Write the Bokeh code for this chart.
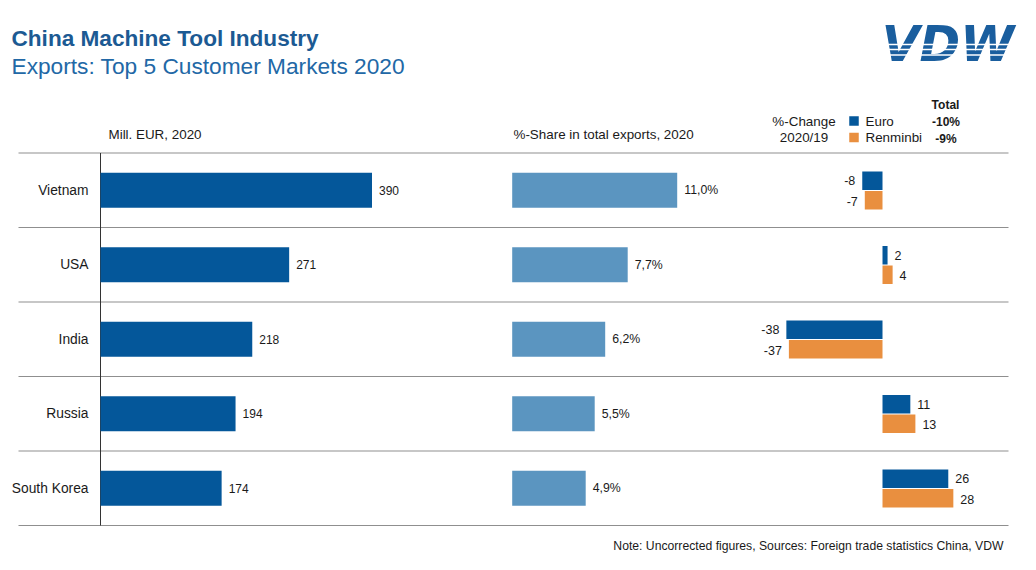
from bokeh.plotting import figure
from bokeh.models import Range1d, ColumnDataSource
from bokeh.transform import dodge
from bokeh.core.properties import value
from bokeh.embed import file_html
from bokeh.resources import INLINE

# ---------------- data ----------------
countries = ["Vietnam", "USA", "India", "Russia", "South Korea"]
exports_eur = [390, 271, 218, 194, 174]
share_pct = [11.0, 7.7, 6.2, 5.5, 4.9]
share_labels = ["11,0%", "7,7%", "6,2%", "5,5%", "4,9%"]
chg_euro = [-8, 2, -38, 11, 26]
chg_rmb = [-7, 4, -37, 13, 28]
total_euro = "-10%"
total_rmb = "-9%"

# ---------------- layout constants ----------------
W, H = 1020, 554
ROW0 = 189.75          # pixel centre of first row
STEP = 74.5            # pixels per row
EUR0, EUR_S = 100, 271.5 / 390
SH0, SH_S = 511.7, 15.0
CH0, CH_S = 882, 2.53

DARK = "#04579a"
LIGHT = "#5b95c0"
ORANGE = "#e98f3f"
GRID = "#8f8f8f"
TXT = "#1a1a1a"
FONT = value("Liberation Sans")

p = figure(width=W, height=H, output_backend="svg", toolbar_location=None,
           x_range=Range1d(0, W), y_range=Range1d(H, 0), min_border=0)
p.axis.visible = False
p.grid.visible = False
p.outline_line_color = None
p.background_fill_color = "white"
p.border_fill_color = "white"

p.extra_y_ranges = {"rows": Range1d(start=(H - ROW0) / STEP, end=-ROW0 / STEP)}
p.extra_x_ranges = {
    "eur": Range1d(start=-EUR0 / EUR_S, end=(W - EUR0) / EUR_S),
    "share": Range1d(start=-SH0 / SH_S, end=(W - SH0) / SH_S),
    "chg": Range1d(start=-CH0 / CH_S, end=(W - CH0) / CH_S),
}

rows = list(range(len(countries)))
src = ColumnDataSource(dict(
    row=rows, country=countries, eur=exports_eur,
    eur_lbl=[str(v) for v in exports_eur],
    share=share_pct, share_lbl=share_labels,
    ce=chg_euro, cr=chg_rmb,
    ce_lbl=[str(v) for v in chg_euro], cr_lbl=[str(v) for v in chg_rmb],
    ce_align=["right" if v < 0 else "left" for v in chg_euro],
    cr_align=["right" if v < 0 else "left" for v in chg_rmb],
    ce_off=[-7 if v < 0 else 7 for v in chg_euro],
    cr_off=[-7 if v < 0 else 7 for v in chg_rmb],
))

# separators
seps = [i - 0.5 for i in range(len(countries) + 1)]
p.segment(x0=18, x1=1008, y0=seps, y1=seps, y_range_name="rows",
          line_color=GRID, line_width=1.2)
# axis line of first panel
p.segment(x0=0, x1=0, y0=-0.5, y1=len(countries) - 0.5, x_range_name="eur",
          y_range_name="rows", line_color="#333333", line_width=1)

# panel 1
p.hbar(y="row", left=0, right="eur", height=0.47, source=src, x_range_name="eur",
       y_range_name="rows", fill_color=DARK, line_color=None)
p.text(x="eur", y="row", text="eur_lbl", source=src, x_range_name="eur", y_range_name="rows",
       x_offset=7, text_align="left", text_baseline="middle", text_font=FONT,
       text_font_size="12px", text_color=TXT)
p.text(x=-12 / EUR_S, y="row", text="country", source=src, x_range_name="eur",
       y_range_name="rows", text_align="right", text_baseline="middle", text_font=FONT,
       text_font_size="13.8px", text_color=TXT)

# panel 2
p.hbar(y="row", left=0, right="share", height=0.47, source=src, x_range_name="share",
       y_range_name="rows", fill_color=LIGHT, line_color=None)
p.text(x="share", y="row", text="share_lbl", source=src, x_range_name="share",
       y_range_name="rows", x_offset=7, text_align="left", text_baseline="middle",
       text_font=FONT, text_font_size="12.3px", text_color=TXT)

# panel 3
OFF = 9.5 / STEP
BH = 18.5 / STEP
p.hbar(y=dodge("row", -OFF), left=0, right="ce", height=BH, source=src, x_range_name="chg",
       y_range_name="rows", fill_color=DARK, line_color=None)
p.hbar(y=dodge("row", OFF + 0.5 / STEP), left=0, right="cr", height=BH, source=src,
       x_range_name="chg", y_range_name="rows", fill_color=ORANGE, line_color=None)
p.text(x="ce", y=dodge("row", -OFF), text="ce_lbl", source=src, x_range_name="chg",
       y_range_name="rows", x_offset="ce_off", text_align="ce_align", text_baseline="middle",
       text_font=FONT, text_font_size="12.5px", text_color=TXT)
p.text(x="cr", y=dodge("row", OFF + 1.5 / STEP), text="cr_lbl", source=src, x_range_name="chg",
       y_range_name="rows", x_offset="cr_off", text_align="cr_align", text_baseline="middle",
       text_font=FONT, text_font_size="12.5px", text_color=TXT)

# titles
p.text(x=[11], y=[38], text=["China Machine Tool Industry"], text_font=FONT,
       text_font_size="22.6px", text_font_style="bold", text_color="#1c5a93",
       text_baseline="middle", text_align="left")
p.text(x=[11], y=[65], text=["Exports: Top 5 Customer Markets 2020"], text_font=FONT,
       text_font_size="22.7px", text_color="#2268a6", text_baseline="middle", text_align="left")

# column headers
p.text(x=[108, 513], y=[134, 134],
       text=["Mill. EUR, 2020", "%-Share in total exports, 2020"], text_font=FONT,
       text_font_size="13.4px", text_color=TXT, text_baseline="middle", text_align="left")

# legend
p.text(x=[803.5, 803.5], y=[121, 137], text=["%-Change", "2020/19"],
       text_font=FONT, text_font_size="13.4px", text_color=TXT, text_baseline="middle",
       text_align="center")
p.rect(x=[853.5, 853.5], y=[120.5, 137], width=9.5, height=9.5,
       fill_color=[DARK, ORANGE], line_color=None)
p.text(x=[865, 865], y=[121, 137], text=["Euro", "Renminbi"],
       text_font=FONT, text_font_size="13.4px", text_color=TXT, text_baseline="middle",
       text_align="left")
p.text(x=[945, 945.5, 945.5], y=[104, 121, 138],
       text=["Total", total_euro, total_rmb], text_font=FONT, text_font_size="12px",
       text_font_style="bold", text_color=TXT, text_baseline="middle", text_align="center")

# logo
p.text(x=[947.5], y=[44], text=["VDW"], text_font=value("DejaVu Sans"),
       text_font_size="49px", text_font_style="bold italic", text_color="#1a5e9e",
       text_baseline="middle", text_align="center")
stripes = [44, 49, 54.5]
p.segment(x0=878, x1=1016, y0=stripes, y1=stripes, line_color="white", line_width=1.6)

# footnote
p.text(x=[1003], y=[545],
       text=["Note: Uncorrected figures, Sources: Foreign trade statistics China, VDW"],
       text_font=FONT, text_font_size="12.2px", text_color=TXT, text_baseline="middle",
       text_align="right")

open("out.html", "w").write(file_html(p, INLINE))
